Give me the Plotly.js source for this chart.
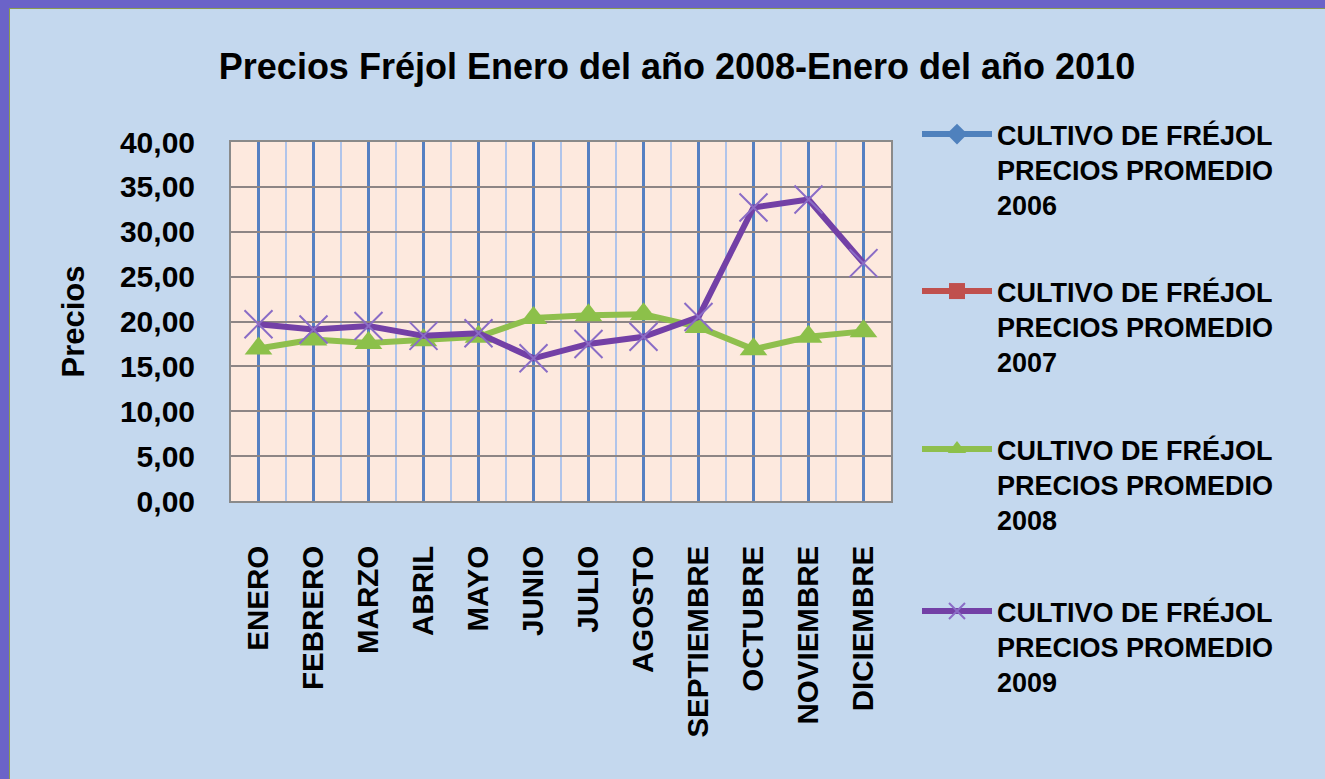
<!DOCTYPE html>
<html>
<head>
<meta charset="utf-8">
<script src="https://cdn.plot.ly/plotly-3.0.1.min.js"></script>
<style>
  html, body { margin: 0; padding: 0; background: #c4d8ee; }
  #chart { width: 1325px; height: 779px; }
</style>
</head>
<body>
<div id="chart"></div>
<script>
// ---- Data ----
const months = ["ENERO", "FEBRERO", "MARZO", "ABRIL", "MAYO", "JUNIO", "JULIO",
                "AGOSTO", "SEPTIEMBRE", "OCTUBRE", "NOVIEMBRE", "DICIEMBRE"];
const seriesNames = [
  "CULTIVO DE FRÉJOL<br>PRECIOS PROMEDIO<br>2006",
  "CULTIVO DE FRÉJOL<br>PRECIOS PROMEDIO<br>2007",
  "CULTIVO DE FRÉJOL<br>PRECIOS PROMEDIO<br>2008",
  "CULTIVO DE FRÉJOL<br>PRECIOS PROMEDIO<br>2009"
];
const precios2006 = [null, null, null, null, null, null, null, null, null, null, null, null];
const precios2007 = [null, null, null, null, null, null, null, null, null, null, null, null];
const precios2008 = [17.0, 18.0, 17.6, 17.9, 18.3, 20.4, 20.7, 20.8, 19.4, 16.9, 18.3, 18.9];
const precios2009 = [19.7, 19.1, 19.5, 18.4, 18.7, 15.9, 17.5, 18.3, 20.5, 32.7, 33.6, 26.5];
const yTitle = "Precios";
const chartTitle = "Precios Fréjol Enero del año 2008-Enero del año 2010";

// ---- Layout helpers ----
const W = 1325, H = 779;
const M = { l: 231, r: 434, t: 142, b: 278 };
const plotW = W - M.l - M.r, plotH = H - M.t - M.b;
const px2x = p => (p - M.l) / plotW;
const px2y = p => (H - M.b - p) / plotH;

const idx = months.map((_, i) => i);
const FONT = "Liberation Sans, Arial, sans-serif";
const legendIds = ["legend", "legend2", "legend3", "legend4"];
const legendTops = [110, 267, 425, 587];

const traces = [
  { y: precios2006, name: seriesNames[0], color: "#4f81bd",
    marker: { symbol: "diamond", size: 17, color: "#4f81bd" } },
  { y: precios2007, name: seriesNames[1], color: "#c0504d",
    marker: { symbol: "square", size: 17, color: "#c0504d" } },
  { y: precios2008, name: seriesNames[2], color: "#8fbf4d",
    marker: { symbol: "triangle-up", size: 24, color: "#8cc04a" } },
  { y: precios2009, name: seriesNames[3], color: "#7340a6",
    marker: { symbol: "x-thin", size: 28, color: "#8a6cc6", line: { color: "#8a6cc6", width: 2 } } }
].map((s, i) => ({
  type: "scatter",
  mode: "lines+markers",
  x: idx,
  y: s.y,
  name: s.name,
  legend: legendIds[i],
  line: { color: s.color, width: 6 },
  marker: s.marker,
  cliponaxis: false
}));

const legendStyle = top => ({
  xref: "container", yref: "container",
  x: 917 / W, y: 1 - top / H, xanchor: "left", yanchor: "top",
  bgcolor: "rgba(0,0,0,0)",
  font: { family: FONT, size: 27, weight: "bold", color: "#000" },
  valign: "top",
  itemwidth: 70
});

const layout = {
  width: W, height: H,
  margin: M,
  paper_bgcolor: "#c4d8ee",
  plot_bgcolor: "#fde9de",
  separators: ",.",
  font: { family: FONT, color: "#000000", weight: "bold" },
  title: {
    text: chartTitle,
    font: { family: FONT, size: 36, weight: "bold", color: "#000" },
    xref: "container", yref: "container",
    x: 677 / W, y: 1 - 66 / H, xanchor: "center", yanchor: "middle"
  },
  xaxis: {
    type: "linear",
    range: [-0.5, 11.5],
    tickmode: "array",
    tickvals: idx,
    ticktext: months,
    tickangle: -90,
    ticklabelstandoff: 31,
    tickfont: { family: FONT, size: 29.5, weight: "bold" },
    showgrid: true, gridcolor: "#5580c2", gridwidth: 3,
    minor: { tick0: -0.5, dtick: 1, showgrid: true, gridcolor: "#b0c4ea", gridwidth: 2 },
    showline: true, linecolor: "#8a8a8a", linewidth: 2, mirror: true,
    zeroline: false, ticks: "", fixedrange: true
  },
  yaxis: {
    range: [0, 40],
    dtick: 5,
    tickformat: ".2f",
    tickfont: { family: FONT, size: 30, weight: "bold" },
    ticklabelstandoff: 28,
    showgrid: true, gridcolor: "#8d8585", gridwidth: 2,
    showline: true, linecolor: "#8a8a8a", linewidth: 2, mirror: true,
    zeroline: false, ticks: "",
    title: { text: yTitle, font: { family: FONT, size: 31, weight: "bold" }, standoff: 26 },
    fixedrange: true
  },
  legend: legendStyle(legendTops[0]),
  legend2: legendStyle(legendTops[1]),
  legend3: legendStyle(legendTops[2]),
  legend4: legendStyle(legendTops[3]),
  shapes: [
    { type: "rect", xref: "paper", yref: "paper", layer: "above",
      x0: px2x(-10), x1: px2x(W + 10), y0: px2y(8), y1: px2y(-10),
      fillcolor: "#6b63c8", line: { width: 0 } },
    { type: "rect", xref: "paper", yref: "paper", layer: "above",
      x0: px2x(-10), x1: px2x(9), y0: px2y(H + 10), y1: px2y(-10),
      fillcolor: "#6b63c8", line: { width: 0 } },
    { type: "line", xref: "paper", yref: "paper", layer: "above",
      x0: px2x(9), x1: px2x(W + 10), y0: px2y(8.5), y1: px2y(8.5),
      line: { color: "#8a9a50", width: 1 } },
    { type: "line", xref: "paper", yref: "paper", layer: "above",
      x0: px2x(9.5), x1: px2x(9.5), y0: px2y(8), y1: px2y(H + 10),
      line: { color: "#8a9a50", width: 1 } }
  ],
  showlegend: true
};

Plotly.newPlot("chart", traces, layout, { displayModeBar: false, staticPlot: true });
</script>
</body>
</html>
